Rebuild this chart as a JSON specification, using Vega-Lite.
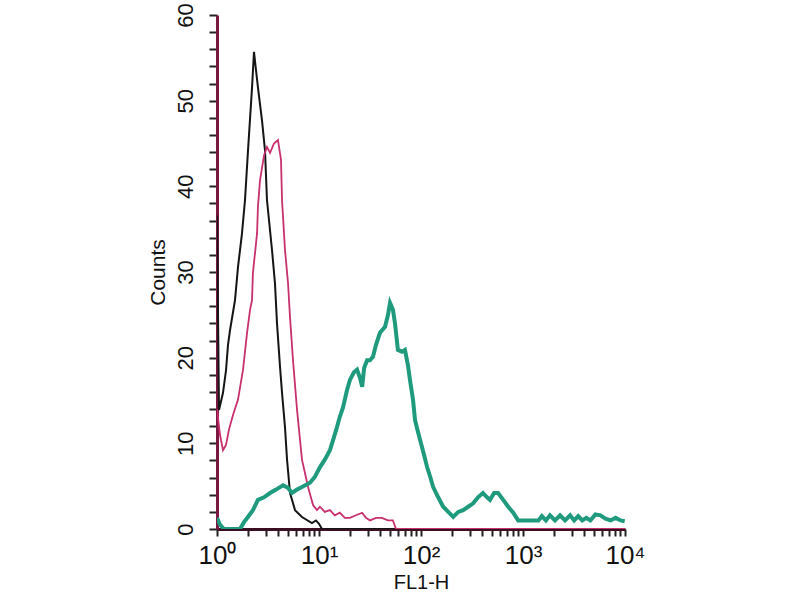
{
  "$schema": "https://vega.github.io/schema/vega-lite/v6.json",
  "autosize": {"type": "none"},
  "padding": {"left": 217, "top": 15, "right": 175, "bottom": 71},
  "width": 408,
  "height": 514,
  "background": "white",
  "config": {"view": {"stroke": null}, "font": "Liberation Sans"},
  "datasets": {
    "black": [
      {"x": 1.0, "y": 36.6}, {"x": 1.046, "y": 13.9}, {"x": 1.145, "y": 15.9}, {"x": 1.225, "y": 18.5},
      {"x": 1.282, "y": 21.5}, {"x": 1.341, "y": 23.2}, {"x": 1.501, "y": 26.7}, {"x": 1.607, "y": 30.6},
      {"x": 1.758, "y": 34.5}, {"x": 1.882, "y": 38.4}, {"x": 2.014, "y": 44.2}, {"x": 2.204, "y": 51.5},
      {"x": 2.305, "y": 55.7}, {"x": 2.41, "y": 53.6}, {"x": 2.523, "y": 51.5}, {"x": 2.762, "y": 47.7},
      {"x": 2.955, "y": 44.2}, {"x": 3.09, "y": 38.4}, {"x": 3.46, "y": 32.6}, {"x": 3.7, "y": 28.7},
      {"x": 3.875, "y": 24.0}, {"x": 4.15, "y": 18.9}, {"x": 4.34, "y": 15.9}, {"x": 4.64, "y": 11.9},
      {"x": 4.86, "y": 8.1}, {"x": 5.2, "y": 4.2}, {"x": 5.82, "y": 2.2}, {"x": 6.81, "y": 1.4},
      {"x": 8.53, "y": 0.7}, {"x": 9.34, "y": 1.0}, {"x": 10.0, "y": 0.6}, {"x": 10.7, "y": 0},
      {"x": 10000, "y": 0}
    ],
    "magenta": [
      {"x": 1.0, "y": 14.0}, {"x": 1.07, "y": 11.0}, {"x": 1.145, "y": 9.2}, {"x": 1.225, "y": 9.8},
      {"x": 1.31, "y": 11.6}, {"x": 1.435, "y": 13.3}, {"x": 1.607, "y": 15.1}, {"x": 1.8, "y": 18.6},
      {"x": 1.97, "y": 22.9}, {"x": 2.11, "y": 25.6}, {"x": 2.204, "y": 26.7}, {"x": 2.25, "y": 29.9},
      {"x": 2.47, "y": 34.5}, {"x": 2.52, "y": 37.6}, {"x": 2.64, "y": 40.7}, {"x": 2.89, "y": 43.6},
      {"x": 3.09, "y": 44.6}, {"x": 3.31, "y": 43.9}, {"x": 3.62, "y": 45.0}, {"x": 3.96, "y": 45.4},
      {"x": 4.24, "y": 43.1}, {"x": 4.34, "y": 38.4}, {"x": 4.64, "y": 32.6}, {"x": 4.97, "y": 28.7},
      {"x": 5.2, "y": 24.7}, {"x": 5.56, "y": 19.7}, {"x": 6.09, "y": 13.9}, {"x": 6.81, "y": 8.1},
      {"x": 7.81, "y": 4.9}, {"x": 8.74, "y": 2.8}, {"x": 9.55, "y": 2.2}, {"x": 10.2, "y": 2.6},
      {"x": 11.4, "y": 2.0}, {"x": 12.8, "y": 2.2}, {"x": 14.3, "y": 1.6}, {"x": 16.0, "y": 1.9},
      {"x": 17.9, "y": 1.3}, {"x": 20.1, "y": 1.3}, {"x": 23.0, "y": 1.6}, {"x": 26.5, "y": 1.9},
      {"x": 28.9, "y": 1.3}, {"x": 31.6, "y": 1.0}, {"x": 36.2, "y": 1.3}, {"x": 41.4, "y": 1.3},
      {"x": 47.3, "y": 1.0}, {"x": 53.0, "y": 1.0}, {"x": 56.9, "y": 0}, {"x": 10000, "y": 0}
    ],
    "teal": [
      {"x": 1.0, "y": 1.3}, {"x": 1.07, "y": 0.5}, {"x": 1.17, "y": 0}, {"x": 1.68, "y": 0},
      {"x": 1.84, "y": 0.8}, {"x": 2.01, "y": 1.4}, {"x": 2.25, "y": 2.2}, {"x": 2.52, "y": 3.4},
      {"x": 2.89, "y": 3.7}, {"x": 3.31, "y": 4.2}, {"x": 3.79, "y": 4.6}, {"x": 4.44, "y": 5.1},
      {"x": 4.97, "y": 4.8}, {"x": 5.43, "y": 4.2}, {"x": 6.09, "y": 4.6}, {"x": 6.81, "y": 4.9},
      {"x": 8.16, "y": 5.4}, {"x": 9.13, "y": 6.1}, {"x": 10.2, "y": 7.2}, {"x": 11.4, "y": 8.1},
      {"x": 12.8, "y": 9.2}, {"x": 14.0, "y": 10.7}, {"x": 15.0, "y": 11.9}, {"x": 16.0, "y": 13.1},
      {"x": 17.2, "y": 14.2}, {"x": 18.8, "y": 16.2}, {"x": 20.1, "y": 17.4}, {"x": 22.0, "y": 18.3},
      {"x": 23.6, "y": 18.6}, {"x": 25.3, "y": 17.6}, {"x": 26.5, "y": 16.6}, {"x": 27.7, "y": 18.8},
      {"x": 29.6, "y": 19.7}, {"x": 31.6, "y": 19.7}, {"x": 33.8, "y": 20.1}, {"x": 36.2, "y": 21.5},
      {"x": 39.6, "y": 22.9}, {"x": 44.4, "y": 23.6}, {"x": 47.5, "y": 25.0}, {"x": 49.7, "y": 26.4},
      {"x": 53.1, "y": 25.6}, {"x": 55.6, "y": 24.0}, {"x": 59.4, "y": 20.9}, {"x": 65.0, "y": 20.7},
      {"x": 69.6, "y": 20.9}, {"x": 74.5, "y": 19.1}, {"x": 78.0, "y": 17.4}, {"x": 83.5, "y": 15.1},
      {"x": 87.4, "y": 12.7}, {"x": 93.6, "y": 11.3}, {"x": 98.0, "y": 10.4}, {"x": 107.4, "y": 8.6},
      {"x": 114.9, "y": 7.2}, {"x": 123, "y": 6.1}, {"x": 131.6, "y": 4.9}, {"x": 147.5, "y": 3.7},
      {"x": 165, "y": 2.6}, {"x": 185, "y": 2.0}, {"x": 207, "y": 1.4}, {"x": 232, "y": 2.0},
      {"x": 259, "y": 2.2}, {"x": 290, "y": 2.6}, {"x": 325, "y": 3.0}, {"x": 362, "y": 3.7},
      {"x": 405, "y": 4.2}, {"x": 444, "y": 3.7}, {"x": 475, "y": 3.4}, {"x": 521, "y": 4.2},
      {"x": 570, "y": 4.2}, {"x": 640, "y": 3.4}, {"x": 716, "y": 2.6}, {"x": 802, "y": 1.9},
      {"x": 897, "y": 1.0}, {"x": 1051, "y": 1.0}, {"x": 1233, "y": 1.0}, {"x": 1416, "y": 1.0},
      {"x": 1532, "y": 1.5}, {"x": 1677, "y": 1.0}, {"x": 1837, "y": 1.6}, {"x": 2058, "y": 1.0},
      {"x": 2307, "y": 1.6}, {"x": 2585, "y": 1.0}, {"x": 2897, "y": 1.6}, {"x": 3174, "y": 1.0},
      {"x": 3478, "y": 1.5}, {"x": 3812, "y": 1.0}, {"x": 4175, "y": 1.3}, {"x": 4575, "y": 1.0},
      {"x": 5127, "y": 1.7}, {"x": 5745, "y": 1.6}, {"x": 6440, "y": 1.2}, {"x": 7215, "y": 1.0},
      {"x": 8088, "y": 1.3}, {"x": 9064, "y": 1.0}, {"x": 9932, "y": 0.9}
    ]
  },
  "encoding": {
    "x": {
      "field": "x", "type": "quantitative",
      "scale": {"type": "log", "domain": [1, 10000], "nice": false},
      "axis": {
        "title": "FL1-H",
        "titleFont": "Liberation Sans", "titleFontSize": 20, "titleFontWeight": "normal", "titleColor": "#111",
        "titlePadding": 4,
        "values": [1,2,3,4,5,6,7,8,9,10,20,30,40,50,60,70,80,90,100,200,300,400,500,600,700,800,900,1000,2000,3000,4000,5000,6000,7000,8000,9000,10000],
        "labelExpr": "datum.value == 1 ? '10⁰' : datum.value == 10 ? '10¹' : datum.value == 100 ? '10²' : datum.value == 1000 ? '10³' : datum.value == 10000 ? '10⁴' : ''",
        "labelFont": "Liberation Sans", "labelFontSize": 26, "labelColor": "#111",
        "labelOverlap": false, "labelFlush": false, "labelBound": false, "labelPadding": 6,
        "tickSize": 7, "tickWidth": 2, "tickColor": "#222",
        "domainColor": "#3a0f22", "domainWidth": 3,
        "grid": false
      }
    },
    "y": {
      "field": "y", "type": "quantitative",
      "scale": {"domain": [0, 60], "nice": false},
      "axis": {
        "title": "Counts",
        "titleFont": "Liberation Sans", "titleFontSize": 21, "titleFontWeight": "normal", "titleColor": "#111",
        "titlePadding": 6,
        "values": [0,2,4,6,8,10,12,14,16,18,20,22,24,26,28,30,32,34,36,38,40,42,44,46,48,50,52,54,56,58,60],
        "labelExpr": "datum.value % 10 == 0 ? datum.label : ''",
        "labelAngle": -90, "labelAlign": "center", "labelBaseline": "bottom",
        "labelFont": "Liberation Sans", "labelFontSize": 22, "labelColor": "#111",
        "labelOverlap": false, "labelFlush": false, "labelBound": false, "labelPadding": 12,
        "tickSize": 8, "tickWidth": 2, "tickColor": "#222",
        "domainColor": "#7a1840", "domainWidth": 3,
        "grid": false
      }
    }
  },
  "layer": [
    {"data": {"name": "black"}, "mark": {"type": "line", "color": "#151515", "strokeWidth": 2, "clip": true}},
    {"data": {"name": "magenta"}, "mark": {"type": "line", "color": "#c8306e", "strokeWidth": 1.8, "clip": true}},
    {"data": {"name": "teal"}, "mark": {"type": "line", "color": "#1f9a7c", "strokeWidth": 4, "clip": true}}
  ]
}
